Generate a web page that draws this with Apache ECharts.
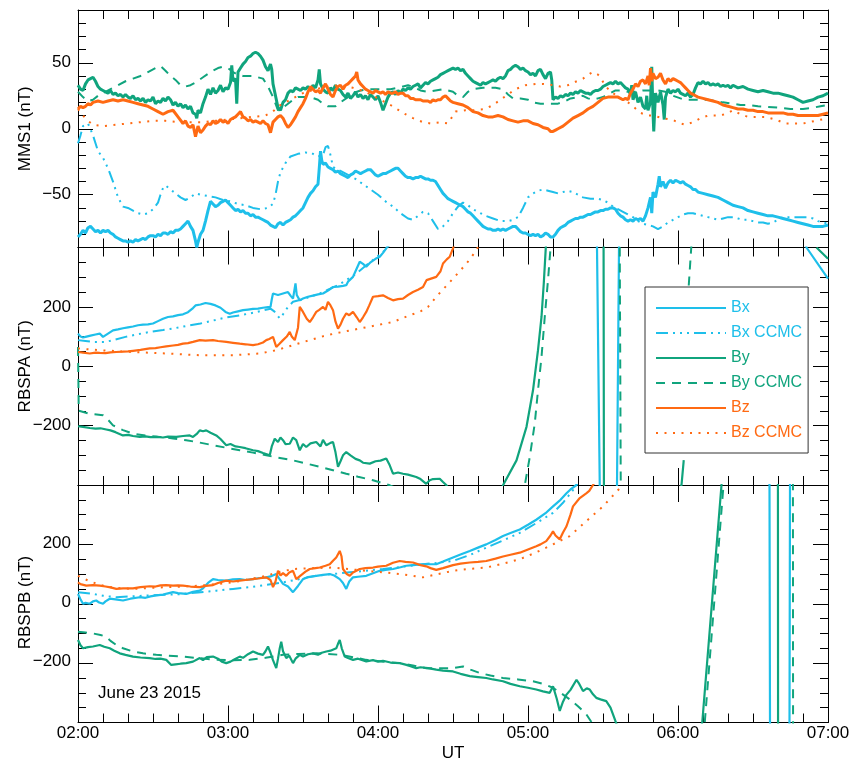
<!DOCTYPE html>
<html>
<head>
<meta charset="utf-8">
<title>MMS1 / RBSPA / RBSPB magnetic field</title>
<script src="https://cdn.jsdelivr.net/npm/echarts@6/dist/echarts.min.js"></script>
<style>
html, body { margin: 0; padding: 0; background: #fff; }
#wrap { position: relative; width: 854px; height: 763px; }
#chart, #labels { position: absolute; left: 0; top: 0; width: 854px; height: 763px; }
#labels { pointer-events: none; }
</style>
</head>
<body>
<div id="wrap">
  <div id="chart"></div>
  <div id="labels"></div>
</div>
<script>
// time is minutes after 02:00 UT, values in nT
const xTicks = ['02:00', '03:00', '04:00', '05:00', '06:00', '07:00'];
const legendNames = ['Bx', 'Bx CCMC', 'By', 'By CCMC', 'Bz', 'Bz CCMC'];

// MMS1
const mmsBx = [[0,-82],[1,-80],[2,-77],[3,-79],[4,-75],[5,-74],[6,-76],[7,-78],[8,-77],[9,-79],[10,-77],[11,-78],[12,-77],[13,-79],[14,-80],[15,-82],[16,-83],[17,-84],[18,-85],[19,-85],[20,-86],[21,-85],[22,-86],[23,-84],[24,-85],[25,-84],[26,-83],[27,-84],[28,-82],[29,-81],[30,-81],[31,-82],[32,-80],[33,-81],[34,-79],[35,-79],[36,-80],[37,-78],[38,-79],[39,-77],[40,-77],[41,-76],[42,-74],[43,-72],[44,-70],[45,-74],[46,-77],[47,-85],[47.5,-90],[48,-86],[49,-80],[50,-77],[51,-70],[52,-62],[53,-55],[54,-57],[55,-59],[56,-58],[57,-56],[58,-55],[59,-54],[60,-56],[61,-58],[62,-60],[63,-62],[64,-61],[65,-63],[66,-62],[67,-64],[68,-64],[69,-66],[70,-65],[71,-67],[72,-67],[73,-68],[74,-69],[75,-70],[76,-71],[77,-73],[78,-74],[79,-75],[80,-72],[81,-71],[82,-73],[83,-71],[84,-70],[85,-69],[86,-67],[87,-66],[88,-64],[89,-62],[90,-60],[91,-56],[92,-52],[93,-49],[94,-47],[95,-44],[96,-42],[96.5,-30],[97,-17],[97.5,-24],[98,-27],[99,-26],[100,-29],[101,-30],[102,-31],[103,-33],[104,-32],[105,-34],[106,-35],[107,-36],[108,-37],[109,-35],[110,-34],[111,-32],[112,-33],[113,-34],[114,-33],[115,-32],[116,-31],[117,-31],[118,-33],[119,-35],[120,-36],[121,-35],[122,-34],[123,-34],[124,-33],[125,-32],[126,-31],[127,-30],[128,-30],[129,-32],[130,-34],[131,-36],[132,-37],[133,-37],[134,-38],[135,-37],[136,-37],[137,-36],[138,-37],[139,-38],[140,-38],[141,-39],[142,-39],[143,-40],[144,-43],[145,-46],[146,-49],[147,-51],[148,-53],[149,-54],[150,-55],[151,-56],[152,-57],[153,-58],[154,-59],[155,-61],[156,-63],[157,-64],[158,-66],[159,-68],[160,-70],[161,-72],[162,-74],[163,-75],[164,-76],[165,-76],[166,-77],[167,-77],[168,-76],[169,-77],[170,-76],[171,-77],[172,-76],[173,-75],[174,-74],[175,-74],[176,-76],[177,-78],[178,-79],[179,-79],[180,-80],[181,-81],[182,-80],[183,-81],[184,-80],[185,-82],[186,-81],[187,-79],[188,-80],[189,-82],[190,-82],[191,-80],[192,-77],[193,-75],[194,-74],[195,-73],[196,-71],[197,-70],[198,-69],[199,-68],[200,-68],[201,-67],[202,-67],[203,-66],[204,-65],[205,-65],[206,-64],[207,-63],[208,-63],[209,-62],[210,-62],[211,-61],[212,-61],[213,-60],[214,-60],[215,-61],[216,-64],[217,-66],[218,-67],[219,-69],[220,-70],[221,-69],[222,-70],[223,-68],[224,-69],[225,-68],[226,-70],[227,-66],[228,-60],[229,-52],[229.5,-64],[230,-48],[231,-52],[232,-42],[232.5,-36],[233,-44],[234,-40],[235,-45],[236,-41],[237,-39],[238,-41],[239,-39],[240,-40],[241,-41],[242,-40],[243,-42],[244,-43],[245,-44],[246,-46],[247,-46],[248,-48],[250,-49],[252,-50],[254,-51],[256,-52],[258,-54],[260,-56],[262,-58],[264,-59],[266,-60],[268,-62],[270,-63],[272,-64],[274,-65],[276,-66],[278,-66],[280,-67],[282,-68],[284,-69],[286,-70],[288,-71],[290,-72],[292,-73],[294,-74],[296,-74],[298,-74],[300,-73]];
const mmsBxC = [[0,-11],[1,-5],[2,2],[4,4],[6,-5],[8,-17],[10,-22],[12,-30],[14,-40],[16,-52],[18,-59],[20,-60],[22,-62],[24,-64],[26,-65],[28,-64],[30,-61],[32,-56],[33,-50],[34,-45],[35,-43],[37,-46],[39,-49],[41,-52],[43,-54],[45,-52],[47,-49],[49,-50],[52,-51],[55,-52],[58,-54],[61,-55],[64,-57],[67,-58],[70,-60],[73,-61],[76,-60],[78,-57],[79,-50],[80,-40],[81,-33],[83,-26],[85,-21],[88,-19],[91,-18],[94,-19],[96,-21],[98,-20],[99,-14],[100,-13],[101,-20],[102,-29],[105,-32],[108,-35],[111,-38],[114,-42],[117,-46],[120,-50],[123,-55],[126,-59],[129,-64],[132,-68],[134,-69],[136,-66],[138,-63],[140,-64],[142,-70],[144,-76],[146,-74],[148,-70],[150,-64],[152,-59],[154,-56],[156,-58],[158,-61],[160,-63],[163,-66],[166,-68],[169,-70],[172,-70],[174,-69],[176,-67],[178,-60],[180,-52],[182,-49],[184,-47],[186,-46],[188,-47],[190,-48],[192,-49],[194,-48],[196,-47],[198,-48],[200,-50],[202,-52],[205,-53],[208,-53],[210,-54],[212,-56],[214,-59],[216,-61],[218,-63],[220,-65],[222,-67],[224,-70],[226,-72],[228,-73],[230,-74],[232,-76],[234,-74],[236,-71],[238,-69],[240,-67],[242,-65],[244,-64],[246,-64],[248,-65],[250,-66],[252,-67],[254,-68],[256,-69],[258,-68],[260,-67],[262,-67],[264,-68],[266,-69],[268,-69],[270,-70],[272,-71],[274,-71],[276,-72],[278,-71],[280,-69],[282,-67],[284,-67],[286,-67],[288,-67],[290,-67],[292,-67],[294,-68],[296,-70],[298,-71],[300,-72]];
const mmsBy = [[0,33],[1,30],[2,29],[3,34],[4,37],[5,38],[6,39],[7,36],[8,32],[9,30],[10,29],[11,28],[12,27],[13,29],[14,26],[15,27],[16,25],[17,26],[18,24],[19,26],[20,24],[21,23],[22,25],[23,22],[24,23],[25,21],[26,23],[27,20],[28,22],[29,21],[30,24],[31,19],[32,21],[33,20],[34,23],[35,21],[36,24],[37,22],[38,18],[39,20],[40,17],[41,19],[42,16],[43,18],[44,15],[45,17],[46,12],[47,11],[47.5,8],[48,14],[49,12],[50,19],[51,24],[52,30],[53,26],[54,31],[55,27],[56,29],[57,33],[58,28],[59,31],[60,30],[61,35],[61.5,48],[62,36],[63,38],[63.5,19],[64,43],[65,46],[66,49],[67,51],[68,54],[69,55],[70,57],[71,58],[72,57],[73,55],[74,52],[75,47],[76,44],[77,49],[77.5,45],[78,34],[79,25],[80,16],[81,14],[82,20],[83,22],[84,27],[85,29],[86,28],[87,31],[88,30],[89,29],[90,31],[91,30],[92,32],[93,30],[94,33],[95,31],[96,37],[96.5,45],[97,34],[98,30],[99,28],[100,27],[101,31],[102,29],[103,33],[104,30],[105,29],[106,26],[107,24],[108,27],[109,23],[110,25],[111,28],[112,24],[113,26],[114,23],[115,25],[116,22],[117,26],[118,24],[119,22],[120,25],[121,20],[122,14],[123,19],[124,24],[125,27],[126,28],[127,26],[128,29],[129,27],[130,30],[131,29],[132,31],[133,30],[134,32],[135,33],[136,34],[137,31],[138,33],[139,35],[140,34],[141,36],[142,37],[143,38],[144,39],[145,41],[146,42],[147,43],[148,44],[149,45],[150,46],[151,45],[152,46],[153,44],[154,45],[155,42],[156,40],[157,38],[158,36],[159,35],[160,34],[161,33],[162,35],[163,34],[164,35],[165,36],[166,37],[167,36],[168,38],[169,39],[170,38],[171,40],[172,44],[173,45],[174,47],[175,48],[176,47],[177,45],[178,46],[179,44],[180,43],[181,41],[182,42],[183,40],[184,44],[185,45],[186,41],[187,38],[188,42],[189,43],[189.5,37],[190,22],[191,24],[192,23],[193,25],[194,24],[195,26],[196,25],[197,27],[198,26],[199,28],[200,27],[201,29],[202,28],[203,27],[204,27],[205,26],[206,28],[207,29],[208,29],[209,30],[210,32],[211,33],[212,34],[213,35],[214,34],[215,36],[216,34],[217,35],[218,33],[219,31],[220,30],[221,26],[221.5,33],[222,22],[223,28],[224,20],[225,24],[226,17],[227,15],[227.5,25],[228,14],[229,20],[229.5,47],[230,12],[230.3,-2],[231,27],[232,20],[233,28],[234,18],[234.5,7],[235,24],[236,30],[237,27],[238,29],[239,28],[240,30],[241,27],[242,26],[243,25],[244,27],[245,24],[246,26],[247,31],[248,35],[249,34],[250,36],[251,34],[252,35],[253,33],[254,34],[255,33],[256,34],[257,32],[258,33],[259,32],[260,33],[261,31],[262,33],[264,31],[266,32],[268,30],[270,29],[272,28],[274,29],[276,28],[278,27],[280,27],[282,26],[284,25],[286,24],[288,22],[290,20],[292,21],[294,22],[296,24],[298,25],[300,27]];
const mmsByC = [[0,28],[2,24],[4,21],[6,22],[8,25],[10,27],[13,30],[16,33],[19,36],[22,38],[25,40],[28,43],[31,46],[33,47.5],[35,44],[37,40],[39,37],[41,33],[43,32],[45,33],[47,35],[50,39],[53,43],[56,46],[58,47],[60,46],[62,43],[64,41],[66,40],[68,40],[70,40],[72,39],[74,38],[76,32],[78,24],[80,14],[82,16],[84,19],[86,22],[88,24],[90,24],[93,24],[96,22],[98,19],[100,17],[103,17],[105,20],[108,24],[110,27],[113,29],[116,30],[119,30],[122,30],[125,30],[128,31],[132,33],[135,31],[137,29],[140,28],[143,29],[146,30],[150,28],[152,25],[154,24],[156,28],[158,30],[162,31],[167,31],[170,30],[172,26],[174,23],[177,23],[180,22],[182,20],[185,19],[188,19],[192,19],[195,21],[197,23],[200,24],[202,25],[204,23],[206,22],[208,23],[210,24],[212,26],[215,29],[218,29],[220,28],[223,28],[226,29],[229,29],[232,29],[235,28],[238,25],[241,23],[243,22],[246,22],[249,22],[252,22],[255,21],[258,20],[262,19],[265,18],[268,18],[272,17],[275,16.7],[280,16],[285,15],[290,15],[294,16],[297,17],[300,18]];
const mmsBz = [[0,15],[1,17],[2,16],[3,17],[4,19],[5,18],[6,20],[8,21],[10,20],[12,21],[14,22],[16,21],[18,22],[20,21],[22,20],[24,19],[26,18],[28,17],[30,15],[32,13],[34,11],[36,13],[38,14],[40,9],[42,4],[43,6],[44,2],[45,1],[46,3],[47,-6],[47.5,-2],[48,2],[49,-3],[50,-1],[51,2],[52,4],[53,3],[54,6],[55,4],[56,5],[57,7],[58,5],[59,6],[60,4],[61,7],[62,8],[63,9],[64,11],[65,13],[66,9],[67,8],[68,6],[69,7],[70,5],[71,6],[72,5],[73,4],[74,6],[75,4],[76,3],[77,-3],[77.5,1],[78,5],[79,7],[80,9],[81,10],[82,8],[83,4],[84,1],[85,3],[86,6],[87,9],[88,13],[89,16],[90,19],[91,23],[92,28],[93,32],[94,30],[95,28],[96,29],[97,27],[98,31],[99,34],[100,30],[101,26],[102,24],[103,29],[104,32],[105,33],[106,30],[107,33],[108,34],[109,36],[110,38],[111,40],[111.5,43],[112,37],[113,34],[114,32],[115,30],[116,29],[117,28],[118,27],[119,29],[120,28],[121,27],[122,28],[123,26],[124,28],[125,27],[126,27],[127,28],[128,26],[129,27],[130,27],[131,25],[132,25],[133,23],[134,23],[135,22],[136,22],[137,22],[138,21],[139,21],[140,21],[141,20],[142,22],[143,21],[144,22],[145,22],[146,24],[147,25],[148,23],[149,21],[150,20],[152,19],[154,18],[156,16],[158,13],[160,12],[162,10],[164,9],[166,9],[168,10],[170,9],[172,7],[174,6],[176,5],[178,6],[180,6],[182,4],[184,3],[186,1],[188,0],[189,-2],[190,-2],[191,-1],[192,0],[194,2],[196,5],[198,8],[200,10],[202,12],[204,15],[206,17],[208,20],[210,23],[212,24],[214,24],[216,24],[218,22],[219,23],[220,22],[221,27],[222,30],[223,34],[224,32],[225,36],[226,37],[227,34],[228,40],[228.5,33],[229,46],[229.5,36],[230,42],[231,38],[232,39],[233,42],[234,37],[235,34],[236,38],[237,36],[238,38],[239,37],[240,36],[241,35],[242,33],[243,31],[244,29],[245,27],[246,26],[247,25],[248,24],[250,23],[252,22],[254,21],[256,20],[258,18],[260,17],[262,16],[264,15],[266,15],[268,14],[270,14],[272,13],[274,13],[276,12],[278,12],[280,12],[282,12],[284,11],[286,11],[288,10],[290,10],[292,10],[294,10],[296,10],[298,11],[300,12]];
const mmsBzC = [[0,15],[2,10],[4,6],[6,3],[10,2],[15,3],[20,4],[25,5],[30,6],[35,6],[40,5],[45,5],[50,5],[55,6],[60,7],[65,8],[70,9],[75,10],[78,13],[80,17],[83,20],[86,23],[90,27],[95,30],[100,32],[105,33],[110,31],[115,28],[120,23],[125,18],[130,12],[134,8],[138,5],[141,4],[145,5],[148,4],[151,13],[155,14],[158,14],[163,15],[166,18],[169,22],[172,26],[175,30],[179,33],[183,34],[186,34],[190,33],[193,32],[196,33],[199,35.6],[202,38],[205,42],[206,43],[208,41],[209,39],[211,32],[214,27],[217,23],[220,20],[222,17],[225,12],[228,10],[230,10],[234,8],[238,6.6],[241,4],[243,3],[246,5],[249,8],[252,10],[254,10],[257,10],[260,12],[262,14],[265,11],[268,9],[272,9],[275,9],[279,7],[283,4],[287,4],[290,4],[295,6],[300,8]];

// RBSPA
const rbaBx = [[0,110],[1,100],[2,97],[3,99],[5,103],[7,107],[8.7,110],[10,99],[12,110],[14,121],[16,124],[18,128],[20,131],[22,134],[24,138],[26,140],[28,141],[30,144],[32,152],[34,160],[36,166],[38,168],[40,172],[42,175],[44,182],[46,196],[47,205],[49,208],[51,213],[53,210],[55,205],[57,197],[59,183],[60.7,177],[62,181],[64,185],[66,189],[68,191],[70,193],[72,194],[74,197],[76,199],[77,200],[77.5,225],[78,245],[80,240],[82,245],[84,250],[85,238],[86,228],[87,279],[87.5,240],[88.7,222],[90,228],[92,234],[94,238],[96,242],[98,245],[100,255],[102,267],[104,268],[106,271],[107.3,273],[108,285],[110,301],[111,320],[112.7,352],[114,345],[115.3,335],[117,350],[119,362],[120.7,369],[122,382],[123.3,397],[125,425],[130,500],[150,800],[180,1500],[200,2500],[207.6,400],[208.7,-400],[210,-1500],[215.6,-400],[216.4,400],[220,2000],[280,1200],[290,450],[291.4,400],[300,295]];
const rbaBxC = [[0,88],[3,85],[6,82],[11,82],[15,90],[19,99],[24,108],[29,116],[34,122],[38,127],[43,135],[49,144],[54,154],[59,164],[65,172],[70,180],[74,188],[77,194],[78.5,185],[80.7,161],[82,175],[84,200],[86,217],[90,226],[96.7,245],[100,258],[104,273],[107.3,290],[111,310],[115.3,340],[119,365],[122,385],[124,402],[130,480],[160,1000],[200,2000]];
const rbaBy = [[0,-202],[2,-204],[4.7,-208],[7,-210],[9,-209],[11.3,-213],[13,-216],[15,-222],[18,-233],[20,-231],[22,-235],[24.7,-238],[27,-236],[29,-239],[31.3,-238],[34,-240],[36,-237],[39.3,-238],[42,-235],[44.7,-233],[46,-238],[46.7,-244],[47.5,-228],[48.7,-216],[50,-219],[51.3,-216],[53,-224],[55.3,-233],[57,-245],[59.3,-266],[61,-262],[63,-270],[64.7,-272],[67,-276],[70,-283],[72,-286],[74,-292],[76.7,-300],[77.5,-270],[78.7,-244],[80,-255],[81,-240],[82,-249],[83,-262],[84.7,-261],[86,-240],[87.3,-249],[88.7,-283],[90,-262],[91.3,-272],[93,-260],[95.3,-255],[97,-270],[98,-248],[99.3,-266],[101,-258],[102,-255],[103,-290],[104,-339],[105,-320],[106,-300],[107.3,-289],[109,-300],[111,-312],[112.7,-317],[114,-325],[116.7,-328],[119,-320],[121,-318],[123.3,-311],[124.5,-330],[126,-362],[128,-358],[130,-362],[132,-365],[135.3,-373],[137,-380],[139.3,-396],[140.7,-384],[142,-380],[144.7,-379],[146,-390],[147.4,-401],[150,-450],[160,-800],[170,-401],[175.4,-317],[179.4,-204],[182,-81],[184,54],[185.4,166],[186.3,278],[187.1,397],[190,800],[205,1500],[210.2,600],[210.4,-600],[215,-1500],[241.4,-400],[242.3,-316],[242.5,null],[295.4,400],[300,362]];
const rbaByC = [[0,65],[0.3,-150],[4.7,-160],[10,-165],[12,-180],[14,-199],[18,-215],[22,-227],[27,-233],[32.7,-238],[38,-243],[43.3,-249],[48,-256],[54,-266],[59,-274],[64.7,-283],[70,-291],[75.3,-300],[80,-308],[86,-317],[91,-327],[96.7,-339],[102,-350],[107.3,-362],[112,-372],[118,-384],[124.7,-401],[130,-420],[160,-900],[178.7,-401],[180.7,-306],[182.7,-193],[184,-81],[185.4,31],[186.7,166],[188,290],[189,397],[195,900],[216.7,400],[217.1,-400],[225,-1500],[230,-1500],[230.5,null],[244.3,272],[245.3,400],[246,500]];
const rbaBz = [[0,48],[2,46],[4.7,43],[7,46],[8.7,45],[11,44],[13,47],[15.3,48],[18,49],[20,50],[22,52],[25,55],[28.7,60],[31,61],[33,64],[35.3,67],[38,70],[40,72],[42,76],[44,78],[46,82],[48.7,88],[51,86],[54,88],[56,85],[59.3,82],[62,79],[64.7,76],[67,74],[70,71],[72,74],[74,80],[75.3,88],[76.5,92],[78,99],[79.3,65],[80.5,75],[82,88],[83.5,100],[84.7,116],[85.5,100],[86.7,88],[88,130],[88.7,200],[90,183],[91.5,160],[92.7,149],[94,165],[95.3,183],[96.5,190],[98,200],[99,190],[100,217],[101,205],[102,189],[103,150],[104,127],[105,140],[106,160],[107.3,178],[108.5,172],[110,183],[111.5,165],[112.7,149],[114,165],[115.3,183],[116.5,205],[118,234],[120,236],[122,239],[124,230],[126,222],[128,226],[130,228],[132,240],[134,250],[136,258],[138,267],[139.4,290],[140,284],[141.5,296],[143.3,301],[145,320],[146,346],[147.5,360],[148.7,369],[150,397],[152,450],[170,1000],[200,2000],[300,2000]];
const rbaBzC = [[0,60],[8.7,54],[22,48],[35.3,43],[48.7,37],[62,37],[72.7,43],[79.3,54],[86,71],[92.7,88],[99.3,104],[106,116],[112.7,127],[119.3,138],[126,149],[132.7,172],[136.7,183],[140,200],[143.3,234],[150,295],[155.4,346],[159.4,391],[161,420],[180,900]];

// RBSPB
const rbbBx = [[0,33],[1,15],[2,0],[3,3],[4.7,0],[6,8],[7.3,11],[8.5,4],[10,0],[11,8],[12.7,17],[15,15],[18,11],[21,17],[24.7,22],[27,20],[29,25],[31.3,28],[34,31],[36,35],[38,39],[40,36],[43.3,33],[46,40],[48.7,44],[50,52],[52,70],[54,83],[56,80],[59.3,78],[62,82],[64.7,83],[67,80],[70,83],[72,86],[75.3,89],[77,92],[79.3,100],[80.5,85],[82,67],[84,58],[86,39],[88,60],[90,83],[92,90],[95.3,94],[98,97],[100.7,100],[102.5,95],[104.7,83],[106,70],[107.3,50],[108.5,75],[110,89],[112,91],[115.3,94],[118,103],[120.7,111],[123,114],[126,117],[129,123],[131.3,128],[134,130],[138,133],[141,133],[143.3,133],[146,142],[150,156],[153,166],[156.7,178],[160,189],[163.3,200],[167,215],[170,228],[173,238],[176.7,250],[180,266],[183.3,283],[187,305],[190,328],[193,350],[195.4,372],[197,385],[199.4,400],[202,450],[230,1500],[270,1500],[276.6,400],[276.8,-400],[280,-1500],[284.6,-400],[284.8,400],[290,1500],[300,1500]];
const rbbBxC = [[0,39],[6,33],[10,27],[15.3,22],[22,25],[28.7,28],[35,30],[42,33],[48,38],[55.3,44],[62,50],[68.7,56],[75,63],[82,72],[88,82],[95.3,94],[102,100],[108.7,106],[115,111],[122,117],[130,125],[138,133],[144,138],[150,144],[157,165],[163.3,189],[170,213],[176.7,239],[183,270],[190,306],[194,340],[198,383],[200,410],[220,800]];
const rbbBy = [[0,-122],[1,-140],[2,-150],[4,-146],[6,-144],[8.7,-139],[10.5,-145],[12.7,-150],[14.5,-158],[16.7,-167],[19,-172],[22,-178],[25,-181],[28.7,-183],[31,-186],[33,-185],[35.3,-189],[37.3,-206],[39,-204],[41,-202],[43.3,-200],[46,-195],[48.7,-183],[50,-190],[51.5,-180],[54,-178],[56,-185],[57.5,-195],[59.3,-200],[61,-195],[62.5,-188],[64.7,-178],[66,-182],[68,-170],[70,-161],[72,-168],[74,-172],[75,-160],[76,-144],[77,-165],[78,-190],[79.3,-217],[80,-185],[80.7,-150],[81.3,-128],[82,-160],[83.3,-183],[84.5,-175],[86,-200],[87,-185],[88.7,-172],[90,-178],[92,-170],[94,-167],[96,-172],[97.5,-165],[99.3,-161],[101,-158],[103.3,-150],[104,-135],[104.7,-122],[105.5,-150],[106.7,-178],[108,-183],[110,-189],[112,-185],[115.3,-194],[118,-190],[120,-195],[122,-192],[125,-198],[128.7,-200],[131,-205],[133,-210],[135.3,-217],[137,-214],[140,-217],[143.3,-222],[146,-225],[150,-228],[153,-236],[156.7,-244],[160,-247],[163.3,-250],[166,-255],[170,-261],[173,-270],[176.7,-278],[180,-283],[183.3,-289],[186,-295],[188.7,-300],[190,-278],[191.5,-320],[192.7,-361],[194,-330],[195.4,-306],[197,-290],[199.4,-256],[200.5,-270],[202,-294],[203.5,-285],[204.7,-289],[206,-305],[207.3,-317],[209,-322],[211.3,-328],[213,-350],[214.7,-389],[216,-420],[230,-1000],[249.7,-400],[257.4,400],[260,700],[279.9,1500],[280.1,-1500],[300,-1500]];
const rbbByC = [[0,-94],[3,-97],[6,-100],[9,-105],[11.3,-111],[13,-125],[15.3,-139],[18,-150],[22,-161],[26,-167],[31.3,-172],[36,-175],[42,-178],[48,-183],[55.3,-189],[62,-190],[68.7,-189],[75,-182],[82,-172],[88,-169],[95.3,-167],[100,-169],[104.7,-172],[110,-180],[115.3,-189],[122,-195],[128.7,-200],[134,-208],[139.3,-217],[145,-217],[150,-217],[154,-211],[157,-222],[160.7,-233],[165,-242],[170,-250],[176,-255],[182,-261],[186,-270],[190,-283],[193,-300],[196.7,-322],[200,-345],[203.3,-372],[205.5,-400],[208,-440],[230,-1000],[250.7,-400],[258.2,400],[262,800],[285.9,1500],[286.1,-1500],[300,-1500]];
const rbbBz = [[0,72],[1,66],[3.3,61],[6,63],[8.7,61],[11,58],[13,55],[15.3,50],[18,52],[22,52],[25,56],[28.7,59],[31,58],[33,62],[35.3,63],[38,61],[40,62],[42,61],[45,58],[48.7,56],[51,60],[54,63],[56,70],[59.3,78],[62,75],[64.7,78],[67,80],[70,83],[72,85],[75.3,89],[77,80],[78,56],[79,75],[80,111],[81,95],[82,103],[83.3,94],[84.5,105],[86,111],[87.3,83],[89,95],[91,108],[92.7,117],[95,120],[96.7,122],[99,128],[100.7,133],[102,145],[103.3,156],[104.7,178],[105.4,160],[106,117],[107.5,100],[108.7,94],[110,105],[112.7,117],[115,120],[118,122],[120,125],[123.3,128],[126,138],[128.7,144],[131,141],[134,139],[137,130],[139.3,126],[141,120],[143.3,114],[146,120],[150,130],[153,135],[156.7,139],[160,141],[163.3,144],[167,152],[170,159],[173,165],[176.7,172],[180,183],[183.3,194],[185,200],[187.3,211],[189,230],[190,244],[191,230],[192.7,217],[194,240],[195.4,261],[197,300],[198,328],[200.7,356],[203.3,372],[204.5,380],[206,400],[208,430],[230,900],[300,1500]];
const rbbBzC = [[0,94],[3,82],[6,72],[9,63],[12.7,56],[17,52],[22,50],[28,53],[35.3,56],[42,58],[48.7,61],[55,66],[62,72],[68,82],[75.3,94],[80,106],[86,117],[94,120],[102,122],[108,117],[115.3,111],[122,106],[128.7,100],[134,94],[138,89],[144,100],[150,111],[156,117],[163.3,122],[170,135],[176.7,150],[183,172],[190,200],[196.7,228],[203.3,278],[210,328],[216.7,389],[218,405],[230,600]];

const FONT = '"Liberation Sans", Arial, Helvetica, sans-serif';
const CYAN = '#1ebfea';
const GREEN = '#10a47d';
const ORANGE = '#ff6a13';

const panelTop = [10, 247.5, 485];
const panelH = 237.5;
const mmsPx = panelH / 180;

const minus = v => String(v).replace('-', '\u2212');
const blk = () => ({ color: '#000', width: 1 });

// three panels + an overlay over MMS1's -50..50 band (long ticks there)
function makeGrids() {
    const g = panelTop.map(t => ({ left: 78, width: 750, top: t, height: panelH }));
    g.push({ left: 78, width: 750, top: panelTop[0] + 40 * mmsPx, height: 100 * mmsPx });
    return g;
}

// y ranges per axis: grid 0 left/right, grid 3 left/right, grid 1 l/r, grid 2 l/r
const yRanges = [
    { grid: 0, min: -90, max: 90, interval: 10, tick: 8, minor: 0 },
    { grid: 0, min: -90, max: 90, interval: 10, tick: 8, minor: 0 },
    { grid: 3, min: -50, max: 50, interval: 50, tick: 15, minor: 0 },
    { grid: 3, min: -50, max: 50, interval: 50, tick: 15, minor: 0 },
    { grid: 1, min: -400, max: 400, interval: 200, tick: 15, minor: 4 },
    { grid: 1, min: -400, max: 400, interval: 200, tick: 15, minor: 4 },
    { grid: 2, min: -400, max: 400, interval: 200, tick: 15, minor: 4 },
    { grid: 2, min: -400, max: 400, interval: 200, tick: 15, minor: 4 }
];

// plain axes for the data chart: lines and ticks only, kept close to the
// minimal setup that renders ticks (first axis default side, second one opposite)
function tickAxes() {
    const xs = [];
    [0, 1, 2].forEach(i => {
        xs.push({
            type: 'value', gridIndex: i, min: 0, max: 300, interval: 60,
            axisLine: { show: true, onZero: false, lineStyle: blk() },
            axisTick: { show: true, inside: true, length: 17, lineStyle: blk() },
            minorTick: { show: true, splitNumber: 6, length: 9, lineStyle: blk() },
            splitLine: { show: false },
            axisLabel: { show: false }
        });
        xs.push({
            type: 'value', gridIndex: i, position: 'top', min: 0, max: 300, interval: 60,
            axisLine: { show: true, onZero: false, lineStyle: blk() },
            axisTick: { show: true, inside: true, length: 17, lineStyle: blk() },
            minorTick: { show: true, splitNumber: 6, length: 9, lineStyle: blk() },
            splitLine: { show: false },
            axisLabel: { show: false }
        });
    });
    xs.push({ type: 'value', gridIndex: 3, min: 0, max: 300, show: false });
    const ys = yRanges.map(r => {
        const ax = {
            type: 'value', gridIndex: r.grid, min: r.min, max: r.max, interval: r.interval,
            axisLine: { show: true, onZero: false, lineStyle: blk() },
            axisTick: { show: true, inside: true, length: r.tick, lineStyle: blk() },
            splitLine: { show: false },
            axisLabel: { show: false }
        };
        if (r.minor) ax.minorTick = { show: true, splitNumber: r.minor, length: 8, lineStyle: blk() };
        return ax;
    });
    return { xs, ys };
}

// text-only axes for the overlay chart: labels and names
function labelAxes() {
    const xs = [];
    [0, 1, 2].forEach(i => {
        ['bottom', 'top'].forEach(pos => {
            const showLab = (i === 2 && pos === 'bottom');
            const ax = {
                type: 'value', gridIndex: i, position: pos, min: 0, max: 300, interval: 60,
                axisLine: { show: false }, axisTick: { show: false }, splitLine: { show: false },
                axisLabel: {
                    show: showLab, margin: 5, color: '#000', fontSize: 17, fontFamily: FONT,
                    formatter: v => xTicks[Math.round(v / 60)] || ''
                }
            };
            if (showLab) {
                Object.assign(ax, { name: 'UT', nameLocation: 'middle', nameGap: 25,
                    nameTextStyle: { color: '#000', fontSize: 17, fontFamily: FONT } });
            }
            xs.push(ax);
        });
    });
    xs.push({ type: 'value', gridIndex: 3, min: 0, max: 300, show: false });
    const names = { 0: 'MMS1 (nT)', 4: 'RBSPA (nT)', 6: 'RBSPB (nT)' };
    const ys = yRanges.map((r, k) => {
        const left = (k % 2 === 0);
        const withLabels = left && r.grid !== 0;
        const ax = {
            type: 'value', gridIndex: r.grid, position: left ? 'left' : 'right',
            min: r.min, max: r.max, interval: r.interval,
            axisLine: { show: false }, axisTick: { show: false }, splitLine: { show: false },
            axisLabel: withLabels
                ? { show: true, color: '#000', fontSize: 17, fontFamily: FONT, margin: 7, formatter: minus,
                    showMinLabel: r.grid === 3, showMaxLabel: r.grid === 3 }
                : { show: false }
        };
        if (names[k]) {
            Object.assign(ax, { name: names[k], nameLocation: 'middle', nameRotate: 90, nameGap: 44,
                nameMoveOverlap: false, nameTextStyle: { color: '#000', fontSize: 17, fontFamily: FONT } });
        }
        return ax;
    });
    return { xs, ys };
}

const yIdx = [0, 4, 6];
const styles = {
    'Bx': { color: CYAN, type: 'solid' },
    'Bx CCMC': { color: CYAN, type: [12, 5, 2, 5, 2, 5, 2, 5] },
    'By': { color: GREEN, type: 'solid' },
    'By CCMC': { color: GREEN, type: [9, 7] },
    'Bz': { color: ORANGE, type: 'solid' },
    'Bz CCMC': { color: ORANGE, type: [2, 6.5] }
};

function mk(name, data, panel) {
    const st = styles[name];
    const measured = name.indexOf('CCMC') < 0;
    return {
        name: name, type: 'line', data: data,
        xAxisIndex: panel * 2, yAxisIndex: yIdx[panel],
        symbol: 'none', showSymbol: false,
        lineStyle: { color: st.color, type: st.type, width: measured ? (panel === 0 ? 3 : 2.2) : 2 },
        itemStyle: { color: st.color }
    };
}

const series = [
    mk('Bx', mmsBx, 0), mk('Bx CCMC', mmsBxC, 0), mk('By', mmsBy, 0), mk('By CCMC', mmsByC, 0), mk('Bz', mmsBz, 0), mk('Bz CCMC', mmsBzC, 0),
    mk('Bx', rbaBx, 1), mk('Bx CCMC', rbaBxC, 1), mk('By', rbaBy, 1), mk('By CCMC', rbaByC, 1), mk('Bz', rbaBz, 1), mk('Bz CCMC', rbaBzC, 1),
    mk('Bx', rbbBx, 2), mk('Bx CCMC', rbbBxC, 2), mk('By', rbbBy, 2), mk('By CCMC', rbbByC, 2), mk('Bz', rbbBz, 2), mk('Bz CCMC', rbbBzC, 2)
];

// data chart with frame and ticks
const ta = tickAxes();
const chart = echarts.init(document.getElementById('chart'));
chart.setOption({
    animation: false,
    grid: makeGrids(),
    xAxis: ta.xs,
    yAxis: ta.ys,
    legend: {
        orient: 'vertical', left: 645, top: 287,
        itemWidth: 70, itemHeight: 14, itemGap: 9, itemTextGap: 10,
        padding: [13, 6, 12, 10],
        borderColor: '#333', borderWidth: 1, backgroundColor: '#fff',
        selectedMode: false,
        itemStyle: { opacity: 0 },
        textStyle: { fontSize: 16, fontFamily: FONT },
        data: legendNames.map(n => ({ name: n, textStyle: { color: styles[n].color } }))
    },
    graphic: [{
        type: 'text', left: 98, top: 685,
        style: { text: 'June 23 2015', font: '17px ' + FONT, fill: '#000' }
    }],
    series: series
});

// labels and axis names on a transparent chart above
const la = labelAxes();
echarts.init(document.getElementById('labels')).setOption({
    animation: false,
    grid: makeGrids(),
    xAxis: la.xs,
    yAxis: la.ys
});
</script>
</body>
</html>
